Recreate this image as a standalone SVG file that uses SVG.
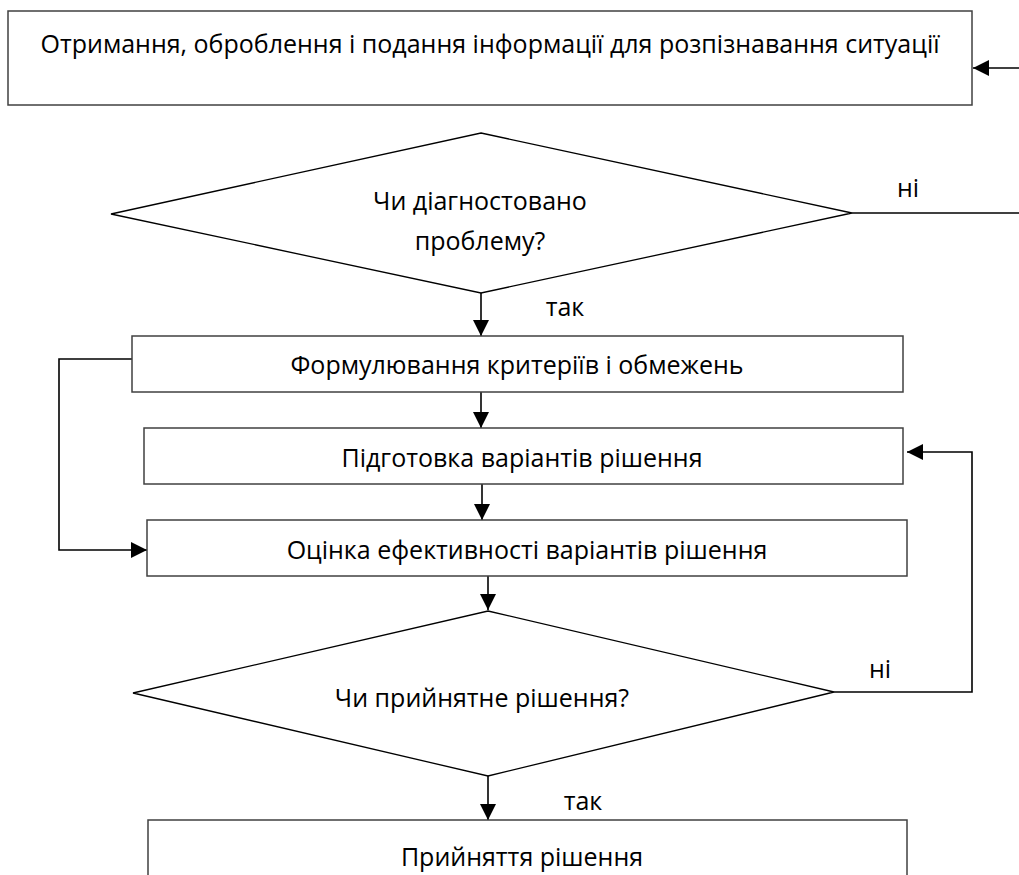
<svg xmlns="http://www.w3.org/2000/svg" width="1019" height="875" viewBox="0 0 1019 875">
<style>
.box{fill:#fff;stroke:#404040;stroke-width:1.5}
.dia{fill:#fff;stroke:#000;stroke-width:1.3}
.t{font-family:"Open Sans","Noto Sans",sans-serif;font-size:25px;fill:#000;text-anchor:middle;dominant-baseline:central}
.ln{fill:none;stroke:#000;stroke-width:1.6}
</style>
<defs>
<marker id="ah" viewBox="0 0 16 16" refX="16" refY="8" markerWidth="16" markerHeight="16" markerUnits="userSpaceOnUse" orient="auto">
<path d="M0,0 L16,8 L0,16 Z" fill="#000"/>
</marker>
</defs>
<g id="connectors">
<path class="ln" d="M1019,68 L973,68" marker-end="url(#ah)"/>
<path class="ln" d="M852,213 L1019,213"/>
<path class="ln" d="M481,293 L481,336" marker-end="url(#ah)"/>
<path class="ln" d="M481,392 L481,428" marker-end="url(#ah)"/>
<path class="ln" d="M482,484 L482,520" marker-end="url(#ah)"/>
<path class="ln" d="M488,576 L488,610" marker-end="url(#ah)"/>
<path class="ln" d="M132,359 L59,359 L59,550 L147,550" marker-end="url(#ah)"/>
<path class="ln" d="M834,692 L972,692 L972,452 L907,452" marker-end="url(#ah)"/>
<path class="ln" d="M488,776 L488,820" marker-end="url(#ah)"/>
<text class="t" x="565" y="306">так</text>
<text class="t" x="908" y="187">ні</text>
<text class="t" x="880" y="668">ні</text>
<text class="t" x="583" y="800">так</text>
</g>
<g id="n1">
<rect class="box" x="8" y="11" width="964" height="94"/>
<text class="t" x="490" y="43">Отримання, оброблення і подання інформації для розпізнавання ситуації</text>
</g>
<g id="d1">
<polygon class="dia" points="481,133 852,213 481,293 111,214"/>
<text class="t" x="480" y="200">Чи діагностовано</text>
<text class="t" x="480" y="240">проблему?</text>
</g>
<g id="n2">
<rect class="box" x="132" y="336" width="771" height="56"/>
<text class="t" x="517" y="364">Формулювання критеріїв і обмежень</text>
</g>
<g id="n3">
<rect class="box" x="144" y="428" width="759" height="56"/>
<text class="t" x="522" y="457">Підготовка варіантів рішення</text>
</g>
<g id="n4">
<rect class="box" x="147" y="520" width="760" height="56"/>
<text class="t" x="527" y="549">Оцінка ефективності варіантів рішення</text>
</g>
<g id="d2">
<polygon class="dia" points="488,611 834,692 488,776 133,693"/>
<text class="t" x="482" y="697">Чи прийнятне рішення?</text>
</g>
<g id="n5">
<rect class="box" x="148" y="820" width="759" height="80"/>
<text class="t" x="522" y="856">Прийняття рішення</text>
</g>
</svg>
